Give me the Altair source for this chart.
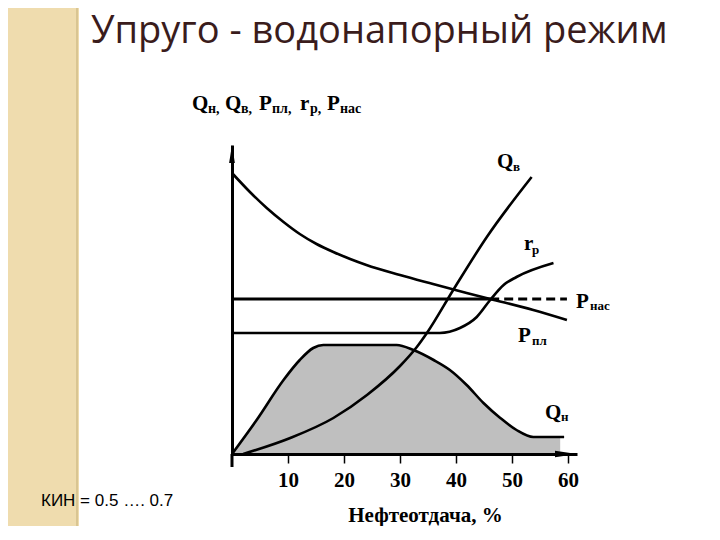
import altair as alt
import pandas as pd

# ---------------- data ----------------
x_ticks = [10, 20, 30, 40, 50, 60]

# Q_н  (oil rate, shaded)
qn_x = [0, 4.4, 9.2, 12.1, 14.5, 16.3, 29.4, 32.4, 36.0, 38.9, 41.9, 44.9, 47.9, 50.8, 53.8, 56.0, 58.6, 59.3]
qn_y = [0, 34, 74, 94, 106, 109, 109, 104, 94, 84, 69, 51, 36, 24, 17, 17, 17, 17]
qn_fill_end = 58.6

# Q_в  (water rate)
qv_x = [2.0, 10.4, 18.1, 24.1, 30.0, 33.0, 34.8, 39.5, 45.5, 53.5]
qv_y = [0, 16, 36, 59, 88, 107, 121, 164, 217, 277]

# P_пл (reservoir pressure)
ppl_x = [0, 3.2, 6.2, 9.2, 12.1, 15.1, 18.1, 21.1, 24.0, 30.0, 35.9, 41.9, 46.1, 53.8, 59.8]
ppl_y = [281, 262, 246, 232, 220, 210, 202, 195, 189, 179, 170, 161, 155, 144, 134]

# r_p (gas factor)
rp_x = [0, 37.1, 40.7, 43.7, 46.1, 48.5, 50.8, 57.4]
rp_y = [121, 121, 126, 137, 154, 169, 177, 191]

# P_нас (saturation pressure)
pnas_level = 155
pnas_solid_x = [0, 46.1]
pnas_dash_x = [46.1, 59.8]

# ---------------- geometry helpers ----------------
X_MAX = 61.6
Y_MAX = 309
W, H = 345, 309
OX, OY = 232, 454          # page position of the origin
KX = W / X_MAX


def px2x(px):
    return (px - OX) / KX


def py2y(py):
    return OY - py


xs = alt.Scale(domain=[0, X_MAX], nice=False, zero=False)
ys = alt.Scale(domain=[0, Y_MAX], nice=False, zero=False)

x_axis = alt.Axis(
    values=x_ticks, grid=False, zindex=2,
    domainWidth=3, domainColor="black",
    tickColor="black", tickWidth=1.5, tickSize=9,
    labelFont="Liberation Serif", labelFontWeight="bold", labelFontSize=21,
    labelColor="black", labelPadding=6, labelFlush=False, labelOverlap=False,
    titleFont="Liberation Serif", titleFontWeight="bold", titleFontSize=21,
    titleColor="black", titleX=425 - OX, titleY=67,
    titleAlign="center", titleBaseline="alphabetic",
)
y_axis = alt.Axis(grid=False, zindex=2, domainWidth=3, domainColor="black",
                  ticks=False, labels=False, title=None)


def X(f="x"):
    return alt.X(f"{f}:Q", scale=xs, axis=x_axis, title="Нефтеотдача, %")


def Y(f="y"):
    return alt.Y(f"{f}:Q", scale=ys, axis=y_axis)


LW = 2.6

qn_df = pd.DataFrame({"x": qn_x, "y": qn_y})
qn_fill_df = qn_df[qn_df["x"] <= qn_fill_end]

area = alt.Chart(qn_fill_df).mark_area(color="#bfbfbf", interpolate="monotone", opacity=1).encode(
    x=X(), y=Y())


def curve(xv, yv, dash=None):
    kw = dict(color="black", strokeWidth=LW, interpolate="monotone")
    if dash:
        kw["strokeDash"] = dash
    return alt.Chart(pd.DataFrame({"x": xv, "y": yv})).mark_line(**kw).encode(x=X(), y=Y())


qn_line = curve(qn_x, qn_y)
qv_line = curve(qv_x, qv_y)
ppl_line = curve(ppl_x, ppl_y)
rp_line = curve(rp_x, rp_y)
pnas_solid = alt.Chart(pd.DataFrame({"x": pnas_solid_x, "y": [pnas_level] * 2})).mark_line(
    color="black", strokeWidth=3).encode(x=X(), y=Y())
pnas_dash = alt.Chart(pd.DataFrame({"x": pnas_dash_x, "y": [pnas_level] * 2})).mark_line(
    color="black", strokeWidth=3, strokeDash=[9, 5]).encode(x=X(), y=Y())

# y axis extension below the x axis
yext = alt.Chart(pd.DataFrame({"x": [0], "y": [0], "y2": [py2y(467)]})).mark_rule(
    color="black", strokeWidth=3).encode(x=X(), y=Y(), y2="y2:Q")

# arrow heads
arr_up = alt.Chart(pd.DataFrame({"x": [0], "y": [py2y(154)]})).mark_point(
    shape="M0,-1L0.32,1L-0.32,1Z", filled=True, size=324, color="black", opacity=1,
    strokeWidth=0).encode(x=X(), y=Y())
arr_right = alt.Chart(pd.DataFrame({"x": [px2x(566)], "y": [0]})).mark_point(
    shape="M1,0L-1,0.3L-1,-0.3Z", filled=True, size=484, color="black", opacity=1,
    strokeWidth=0).encode(x=X(), y=Y())

# labels: (text, left px, baseline px, font size)
label_pieces = [
    ("Q", 497, 168, 21), ("в", 513, 171, 13),
    ("r", 524, 250, 21), ("р", 532, 254, 13),
    ("P", 576, 308, 21), ("нас", 590, 310, 13),
    ("P", 518, 342, 21), ("пл", 532, 345, 13),
    ("Q", 545, 419, 21), ("н", 561, 421, 13),
    # axis caption  Qн, Qв, Pпл, rp, Pнас
    ("Q", 192, 110, 21), ("н,", 208, 113, 14),
    ("Q", 225, 110, 21), ("в,", 241, 113, 14),
    ("P", 259, 110, 21), ("пл,", 272, 113, 14),
    ("r", 300, 110, 21), ("р,", 310, 113, 14),
    ("P", 327, 110, 21), ("нас", 340, 113, 14),
]
lab_df = pd.DataFrame({
    "t": [p[0] for p in label_pieces],
    "x": [px2x(p[1]) for p in label_pieces],
    "y": [py2y(p[2]) for p in label_pieces],
    "s": [p[3] for p in label_pieces],
})
labels = alt.Chart(lab_df).mark_text(
    align="left", baseline="alphabetic", font="Liberation Serif", fontWeight="bold",
    color="black").encode(x=X(), y=Y(), text="t:N", size=alt.Size("s:Q", scale=None))

# slide decorations
one = pd.DataFrame({"a": [0]})
stripe = alt.Chart(one).mark_rect(color="#efdcae").encode(
    x=alt.value(8 - OX), x2=alt.value(79 - OX),
    y=alt.value(8 - 145), y2=alt.value(540 - 145))
stripe_edge = alt.Chart(one).mark_rule(color="#d9c592", strokeWidth=2).encode(
    x=alt.value(77 - OX), y=alt.value(8 - 145), y2=alt.value(540 - 145))

title = alt.Chart(pd.DataFrame({"t": ["Упруго - водонапорный режим"]})).mark_text(
    align="left", baseline="alphabetic", font="Open Sans", fontSize=38, color="#3a1c1c").encode(
    x=alt.value(91 - OX), y=alt.value(43 - 145), text="t:N")

kin = alt.Chart(pd.DataFrame({"t": ["КИН = 0.5 …. 0.7"]})).mark_text(
    align="left", baseline="alphabetic", font="Liberation Sans", fontSize=17, color="black").encode(
    x=alt.value(41 - OX), y=alt.value(506 - 145), text="t:N")

chart = alt.layer(
    stripe, stripe_edge, area, qn_line, qv_line, ppl_line, rp_line, pnas_solid, pnas_dash,
    yext, arr_up, arr_right, labels, title, kin,
).properties(
    width=W, height=H,
    autosize=alt.AutoSizeParams(type="none"),
    padding={"left": OX - 8, "top": 145 - 8, "right": 130, "bottom": 72},
    background="white",
).configure_view(stroke=None)

chart.save("out.html", embed_options={"renderer": "svg", "actions": False})
